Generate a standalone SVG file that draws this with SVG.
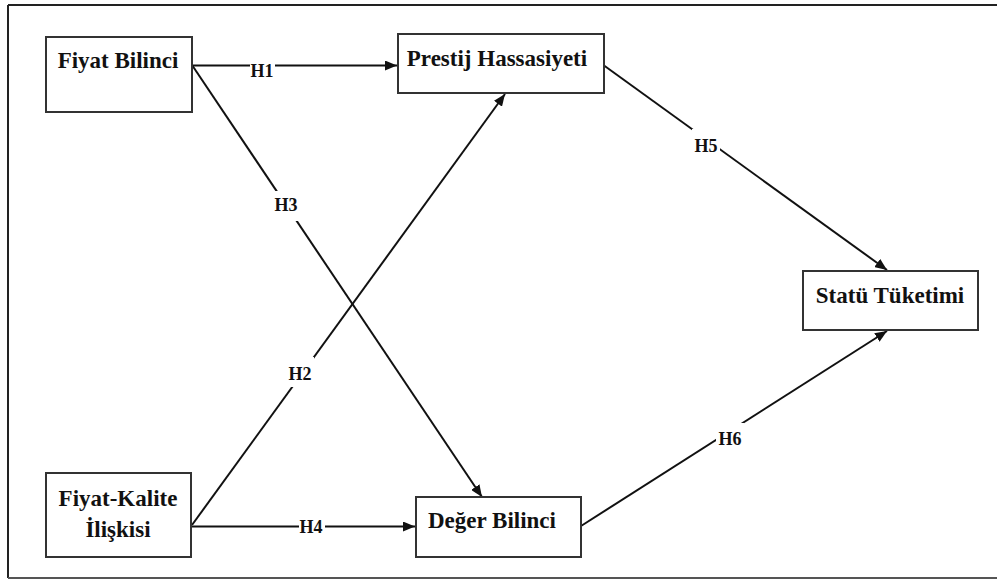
<svg xmlns="http://www.w3.org/2000/svg" width="997" height="579" viewBox="0 0 997 579">
<style>
.box{fill:#fff;stroke:#333;stroke-width:2}
.t{font-family:'Liberation Serif','Times New Roman','DejaVu Serif',serif;font-weight:700;font-size:23px;fill:#111;text-anchor:middle}
.lbl{font-family:'Liberation Serif','Times New Roman','DejaVu Serif',serif;font-weight:700;font-size:18px;fill:#111;text-anchor:middle}
.ln{stroke:#111;stroke-width:2;fill:none}
.bg{fill:#fff}
</style>
<defs>
<marker id="ah" viewBox="0 0 12 10" refX="12" refY="5" markerWidth="12" markerHeight="10" markerUnits="userSpaceOnUse" orient="auto">
<path d="M0,0 L12,5 L0,10 Z" fill="#111"/>
</marker>
</defs>
<rect x="0" y="0" width="997" height="579" fill="#fff"/>
<g id="frame" stroke="#222" stroke-width="2" fill="none">
<path d="M8,5 H997"/>
<path d="M8,5 V578"/>
<path d="M8,578 H997" stroke="#555"/>
</g>
<g id="connectors">
<line class="ln" x1="192" y1="65.5" x2="397" y2="65.5" marker-end="url(#ah)"/>
<line class="ln" x1="192" y1="65" x2="482" y2="497" marker-end="url(#ah)"/>
<line class="ln" x1="192" y1="525" x2="505" y2="94" marker-end="url(#ah)"/>
<line class="ln" x1="191" y1="526.5" x2="415" y2="526.5" marker-end="url(#ah)"/>
<line class="ln" x1="604" y1="65.5" x2="887" y2="270" marker-end="url(#ah)"/>
<line class="ln" x1="581" y1="526" x2="887" y2="331" marker-end="url(#ah)"/>
<rect class="bg" x="250" y="64" width="25" height="14"/>
<text class="lbl" x="262" y="77">H1</text>
<rect class="bg" x="272" y="191" width="30" height="30"/>
<text class="lbl" x="286" y="211">H3</text>
<rect class="bg" x="286" y="357" width="28" height="30"/>
<text class="lbl" x="300" y="380">H2</text>
<rect class="bg" x="299" y="519" width="26" height="15"/>
<text class="lbl" x="311" y="533">H4</text>
<rect class="bg" x="692" y="129" width="28" height="22"/>
<text class="lbl" x="706" y="152">H5</text>
<rect class="bg" x="716" y="423" width="28" height="24"/>
<text class="lbl" x="730" y="445">H6</text>
</g>
<g id="fiyat-bilinci">
<rect class="box" x="46" y="37" width="146" height="75"/>
<text class="t" x="118" y="68">Fiyat Bilinci</text>
</g>
<g id="prestij-hassasiyeti">
<rect class="box" x="398" y="34" width="206" height="59"/>
<text class="t" x="497" y="66">Prestij Hassasiyeti</text>
</g>
<g id="fiyat-kalite">
<rect class="box" x="46" y="473" width="145" height="84"/>
<text class="t" x="118" y="506">Fiyat-Kalite</text>
<text class="t" x="118" y="537">İlişkisi</text>
</g>
<g id="deger-bilinci">
<rect class="box" x="416" y="497" width="165" height="60"/>
<text class="t" x="492" y="528">Değer Bilinci</text>
</g>
<g id="statu-tuketimi">
<rect class="box" x="803" y="271" width="175" height="59"/>
<text class="t" x="890" y="303">Statü Tüketimi</text>
</g>
</svg>
